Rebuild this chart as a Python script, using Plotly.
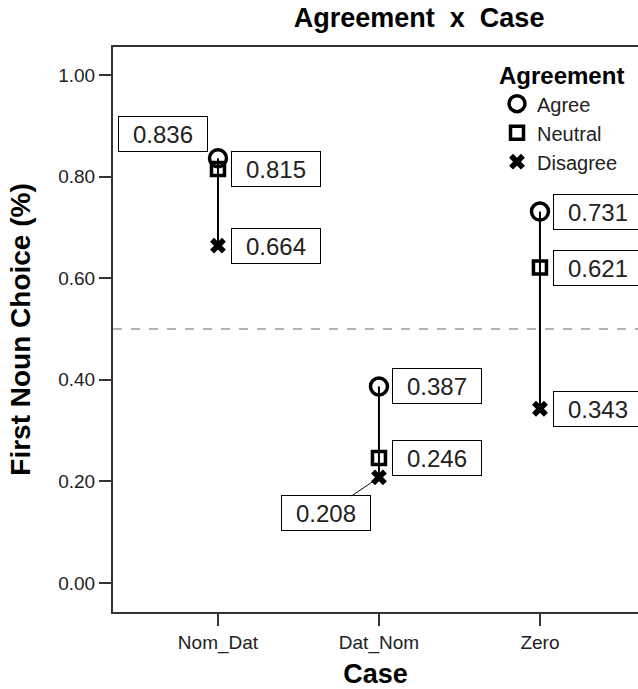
import plotly.graph_objects as go

cases = ["Nom_Dat", "Dat_Nom", "Zero"]
agree = [0.836, 0.387, 0.731]
neutral = [0.815, 0.246, 0.621]
disagree = [0.664, 0.208, 0.343]
y_ticks = [0.0, 0.2, 0.4, 0.6, 0.8, 1.0]
y_tick_labels = ["0.00", "0.20", "0.40", "0.60", "0.80", "1.00"]

FONT = "Liberation Sans, Arial, sans-serif"

fig = go.Figure()

# vertical connecting lines (from max to min of each case)
lx, ly = [], []
for i, c in enumerate(cases):
    vals = [agree[i], neutral[i], disagree[i]]
    lx += [c, c, None]
    ly += [max(vals), min(vals), None]
fig.add_trace(go.Scatter(x=lx, y=ly, mode="lines", line=dict(color="black", width=2),
                         showlegend=False, hoverinfo="skip"))

fig.add_trace(go.Scatter(x=cases, y=agree, mode="markers", name="Agree",
                         marker=dict(symbol="circle-open", size=17, color="black",
                                     line=dict(width=3.5, color="black"))))
fig.add_trace(go.Scatter(x=cases, y=neutral, mode="markers", name="Neutral",
                         marker=dict(symbol="square-open", size=13, color="black",
                                     line=dict(width=3.5, color="black"))))
fig.add_trace(go.Scatter(x=cases, y=disagree, mode="markers", name="Disagree",
                         marker=dict(symbol="x", size=14, color="black",
                                     line=dict(width=0))))

BOXFONT = dict(family=FONT, size=24, color="#222")


def box(x, y, xanchor, xshift, yshift):
    fig.add_annotation(x=x, y=y, text=f"{y:.3f}", xanchor=xanchor, yanchor="middle",
                       xshift=xshift, yshift=yshift, bgcolor="white", showarrow=False,
                       bordercolor="black", borderwidth=1, width=86, height=32,
                       font=BOXFONT)


for i, c in enumerate(cases):
    for series in (agree, neutral, disagree):
        v = series[i]
        if c == "Nom_Dat" and series is agree:
            box(c, v, "right", -10, 24)
        elif c == "Dat_Nom" and series is disagree:
            fig.add_annotation(x=c, y=v, text=f"{v:.3f}", showarrow=True,
                               arrowhead=0, arrowwidth=1, arrowcolor="black",
                               ax=-53, ay=36, standoff=4, bgcolor="white",
                               bordercolor="black", borderwidth=1, width=86, height=32,
                               font=BOXFONT)
        else:
            box(c, v, "left", 13, 0)

fig.add_hline(y=0.5, line=dict(color="#666", width=1, dash="dash"))

fig.update_layout(
    width=638, height=689,
    margin=dict(l=113, r=0, t=47, b=77),
    paper_bgcolor="white", plot_bgcolor="white",
    title=dict(text="<b>Agreement  x  Case</b>", x=372 / 638,
               xanchor="center", xref="paper", y=1 - 18 / 689, yanchor="middle",
               yref="container",
               font=dict(family=FONT, size=27, color="black")),
    font=dict(family=FONT, color="#222"),
    legend=dict(x=(497 - 113) / 525, xanchor="left", y=(612 - 53) / 565, yanchor="top",
                bgcolor="rgba(0,0,0,0)",
                title=dict(text="<b>Agreement</b>", font=dict(family=FONT, size=24, color="black")),
                font=dict(family=FONT, size=20, color="#222"),
                tracegroupgap=0, itemwidth=30),
    showlegend=True,
)

fig.update_xaxes(range=[-0.652, 2.609], showline=True, linecolor="#333", linewidth=2,
                 mirror=True, ticks="outside", ticklen=12, tickwidth=1.5, tickcolor="#333",
                 showgrid=False, zeroline=False, automargin=False,
                 tickfont=dict(family=FONT, size=19, color="#222"),
                 title=dict(text="<b>Case</b>", font=dict(family=FONT, size=27, color="black"),
                            standoff=14))
fig.update_yaxes(range=[-0.057, 1.055], tickvals=y_ticks, ticktext=y_tick_labels,
                 showline=True, linecolor="#333", linewidth=2, mirror=False,
                 ticks="outside", ticklen=12, tickwidth=2, tickcolor="#333",
                 showgrid=False, zeroline=False, automargin=False,
                 tickfont=dict(family=FONT, size=19, color="#222"),
                 title=dict(text="<b>First Noun Choice (%)</b>",
                            font=dict(family=FONT, size=28, color="black"), standoff=19))

fig.write_html("out.html", config={"displayModeBar": False},
               post_script="document.body.style.margin='0';")
